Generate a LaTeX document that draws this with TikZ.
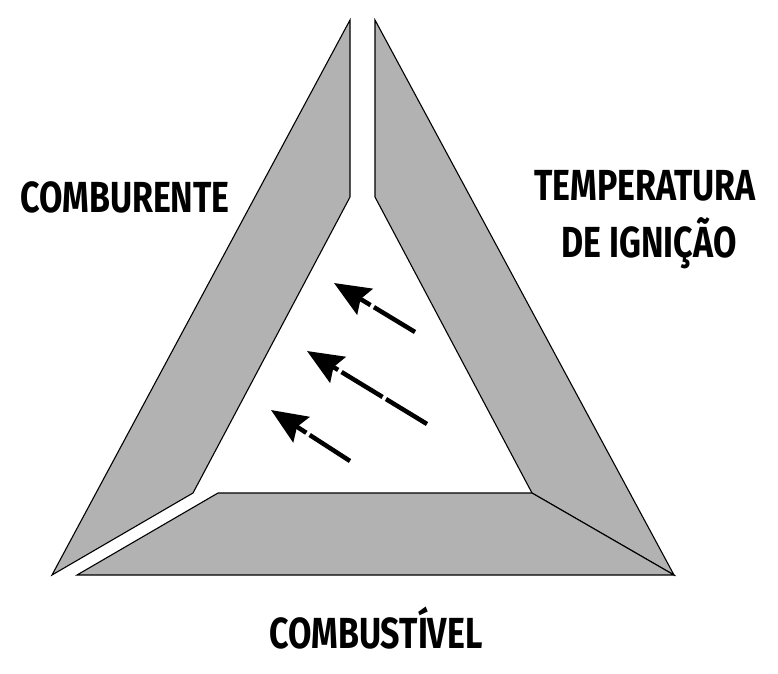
\documentclass[tikz,border=0pt]{standalone}
\usepackage{fontspec}
\usetikzlibrary{arrows.meta}
\newfontfamily\lblfont[FakeStretch=0.78]{Fira Sans}
\tikzset{
  piece/.style={fill=black!30, draw=black, line width=1.1pt, line join=miter},
  lbl/.style={font=\lblfont\bfseries\fontsize{43.5}{56}\selectfont, anchor=base, inner sep=0pt, align=center},
  flow/.style={line width=4.5pt, dash pattern=on 48pt off 4pt,
    -{Stealth[length=36pt, width=30pt, inset=5pt]}}
}
\begin{document}
\begin{tikzpicture}[x=1pt, y=-1pt]
\useasboundingbox (0,0) rectangle (778,673);
% comburente piece
\draw[piece] (350,20) -- (350,197) -- (193,493) -- (52,575) -- cycle;
% temperatura piece
\draw[piece] (375,20) -- (674,575) -- (532,493) -- (375,197) -- cycle;
% combustivel piece
\draw[piece] (77,575) -- (218,493) -- (532,493) -- (674,575) -- cycle;
% arrows
\coordinate (t1) at (415,332); \coordinate (h1) at (334,283);
\coordinate (t2) at (427,424); \coordinate (h2) at (307,351);
\coordinate (t3) at (350,461); \coordinate (h3) at (271,410);
\draw[flow] (t1) -- (h1);
\draw[flow] (t2) -- (h2);
\draw[flow] (t3) -- (h3);
% labels
\node[lbl] (comb) at (125,212) {COMBURENTE};
\node[lbl] (temp) at (645,200) {TEMPERATURA};
\node[lbl] (ign) at (649,257) {DE IGNIÇÃO};
\node[lbl] (fuel) at (376,648) {COMBUSTÍVEL};
\end{tikzpicture}
\end{document}
